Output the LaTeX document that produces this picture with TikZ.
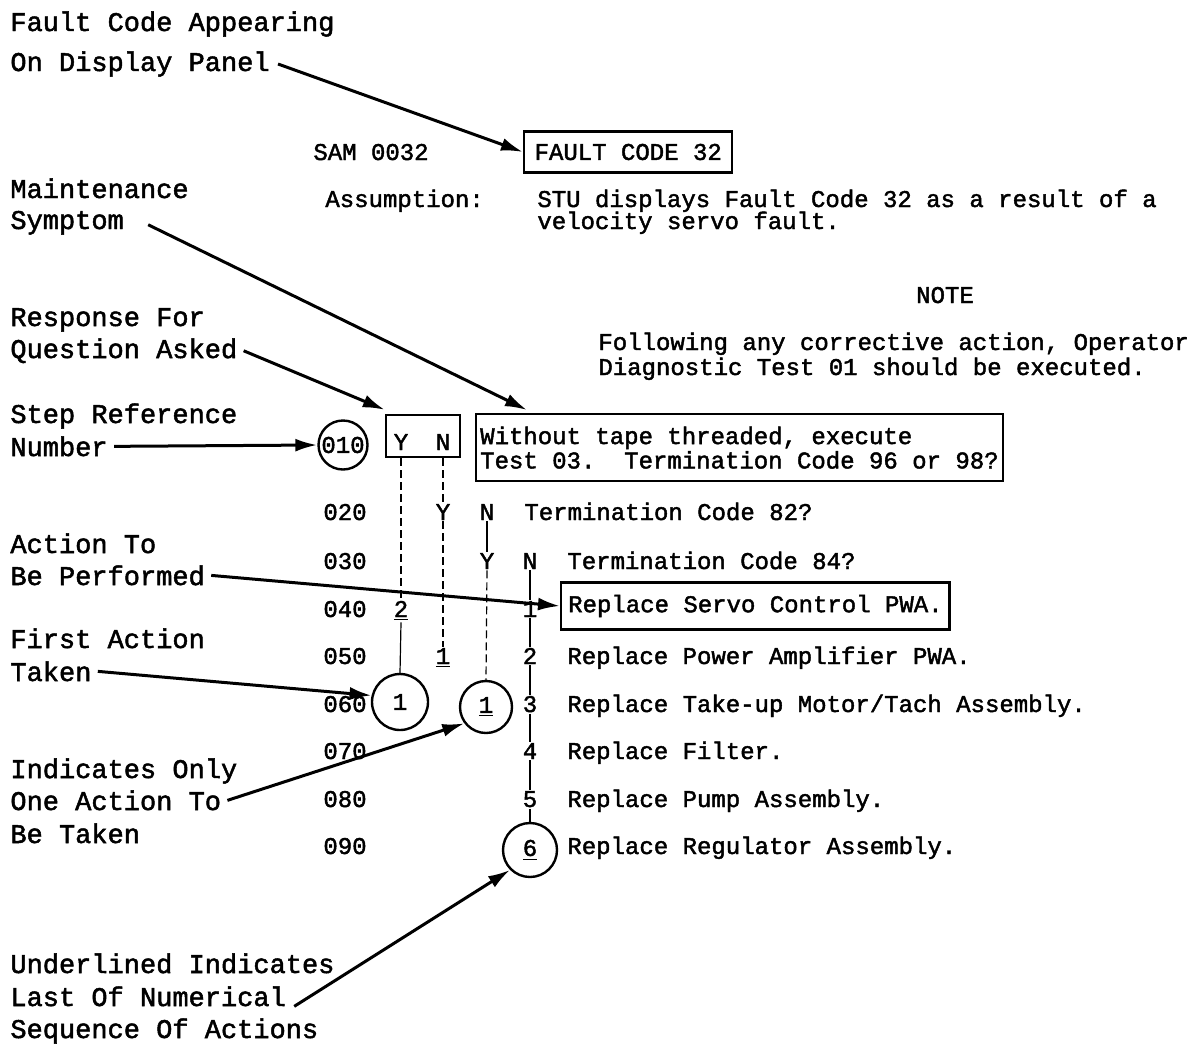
\documentclass[tikz,border=0pt]{standalone}
\usepackage{fontspec}
\newfontfamily\tw{Liberation Mono}[FakeBold=1.8]
\usetikzlibrary{arrows.meta,calc}
\newcommand{\lblf}{\fontsize{13.5}{16}\selectfont\tw\frenchspacing}
\newcommand{\txtf}{\fontsize{12}{10.5}\selectfont\tw\frenchspacing}
\begin{document}
\begin{tikzpicture}[x=0.5pt,y=-0.5pt,
  lbl/.style={font=\lblf, anchor=base west, inner sep=0pt},
  txt/.style={font=\txtf, anchor=base west, inner sep=0pt},
  ch/.style={font=\txtf, anchor=base, inner sep=0.5pt},
  boxed/.style={draw, line width=1.2pt, font=\txtf, inner sep=0pt},
  ring/.style={draw, circle, line width=1.2pt, inner sep=0pt, font=\txtf, minimum size=27pt},
  ptr/.style={line width=1.5pt, -{Latex[length=11pt,width=6.5pt]}},
  dsh/.style={line width=0.6pt, dash pattern=on 4pt off 2pt},
  sld/.style={line width=0.6pt}]
\path[use as bounding box] (0,0) rectangle (1202,1044);
\fill[white] (0,0) rectangle (1202,1044);
% left labels
\node[lbl] (l1a) at (10,31) {Fault Code Appearing};
\node[lbl] (l1b) at (10,71) {On Display Panel};
\node[lbl] (l2a) at (10,198) {Maintenance};
\node[lbl] (l2b) at (10,229) {Symptom};
\node[lbl] (l3a) at (10,326) {Response For};
\node[lbl] (l3b) at (10,358) {Question Asked};
\node[lbl] (l4a) at (10,423) {Step Reference};
\node[lbl] (l4b) at (10,456) {Number};
\node[lbl] (l5a) at (10,553) {Action To};
\node[lbl] (l5b) at (10,585) {Be Performed};
\node[lbl] (l6a) at (10,648) {First Action};
\node[lbl] (l6b) at (10,681) {Taken};
\node[lbl] (l7a) at (10,778) {Indicates Only};
\node[lbl] (l7b) at (10,810) {One Action To};
\node[lbl] (l7c) at (10,843) {Be Taken};
\node[lbl] (l8a) at (10,973) {Underlined Indicates};
\node[lbl] (l8b) at (10,1006) {Last Of Numerical};
\node[lbl] (l8c) at (10,1038) {Sequence Of Actions};
% header
\node[txt] (sam) at (313,160) {SAM 0032};
\node[boxed, anchor=west, minimum width=104pt, minimum height=20.5pt] (fc) at (523,152) {FAULT CODE 32};
\node[txt] (asm) at (325,207) {Assumption:};
\node[txt] (stu1) at (537,207) {STU displays Fault Code 32 as a result of a};
\node[txt] (stu2) at (537,229) {velocity servo fault.};
\node[ch] (note) at (945,303) {NOTE};
\node[txt] (fol1) at (598,350) {Following any corrective action, Operator};
\node[txt] (fol2) at (598,375) {Diagnostic Test 01 should be executed.};
% step 010
\node[ring, minimum size=24.5pt] (c010) at (343,445) {010};
\node[boxed, minimum width=37pt, minimum height=21pt] (yn) at (423,436) {};
\node[ch] (y010) at (401,450) {Y};
\node[ch] (n010) at (443,450) {N};
\node[boxed, anchor=north west, align=left, inner xsep=2pt, minimum height=33.5pt, minimum width=262pt] (wb) at (475,413) {Without tape threaded, execute\\Test 03.~ Termination Code 96 or 98?};
% step numbers
\node[txt] (s020) at (323,520) {020};
\node[txt] (s030) at (323,569) {030};
\node[txt] (s040) at (323,617) {040};
\node[txt] (s050) at (323,664) {050};
\node[txt] (s060) at (323,712) {060};
\node[txt] (s070) at (323,759) {070};
\node[txt] (s080) at (323,807) {080};
\node[txt] (s090) at (323,854) {090};
% rows
\node[ch] (y020) at (443,520) {Y};
\node[ch] (n020) at (487,520) {N};
\node[txt] (q020) at (524,520) {Termination Code 82?};
\node[ch] (y030) at (487,569) {Y};
\node[ch] (n030) at (530,569) {N};
\node[txt] (q030) at (567,569) {Termination Code 84?};
\node[ch] (a040) at (401,617) {\underline{2}};
\node[ch] (b040) at (530,617) {1};
\node[boxed, anchor=west, inner xsep=3.5pt, minimum height=23.5pt] (servo) at (560,606) {Replace Servo Control PWA.};
\node[ch] (a050) at (443,664) {\underline{1}};
\node[ch] (b050) at (530,664) {2};
\node[txt] (r050) at (567,664) {Replace Power Amplifier PWA.};
\node[ring, minimum size=28pt] (c1a) at (400,702) {1};
\node[ring, minimum size=26pt] (c1b) at (486,707) {\underline{1}};
\node[ch] (b060) at (530,712) {3};
\node[txt] (r060) at (567,712) {Replace Take-up Motor/Tach Assembly.};
\node[ch] (b070) at (530,759) {4};
\node[txt] (r070) at (567,759) {Replace Filter.};
\node[ch] (b080) at (530,807) {5};
\node[txt] (r080) at (567,807) {Replace Pump Assembly.};
\node[ring] (c6) at (530,850) {\underline{6}};
\node[txt] (r090) at (567,854) {Replace Regulator Assembly.};
% column lines
\draw[dsh] (yn.south -| y010) -- (a040.north);
\draw[sld] (a040.south) -- (c1a.north);
\draw[dsh] (yn.south -| n010) -- (y020.north);
\draw[dsh] (y020.south) -- (a050.north);
\draw[sld] (n020.south) -- (y030.north);
\draw[dsh] (y030.south) -- (c1b.north);
\draw[sld] (n030.south) -- (b040.north);
\draw[sld] (b040.south) -- (b050.north);
\draw[sld] (b050.south) -- (b060.north);
\draw[sld] (b060.south) -- (b070.north);
\draw[sld] (b070.south) -- (b080.north);
\draw[sld] (b080.south) -- (c6.north);
% pointers
\draw[ptr] ([xshift=4pt]l1b.east) -- (fc.west);
\draw[ptr] ([xshift=12pt,yshift=-1pt]l2b.east) -- ($(wb.north west)+(52,-3)$);
\draw[ptr] ([xshift=3pt]l3b.east) -- ([yshift=2pt]yn.north west);
\draw[ptr] ([xshift=3pt]l4b.east) -- (c010.west);
\draw[ptr] ([xshift=3pt]l5b.east) -- (servo.west);
\draw[ptr] ([xshift=3pt]l6b.east) -- (c1a.167);
\draw[ptr] ([xshift=3pt]l7b.east) -- (c1b.217);
\draw[ptr] ([xshift=4pt,yshift=-5pt]l8b.east) -- (c6.225);
\end{tikzpicture}
\end{document}
